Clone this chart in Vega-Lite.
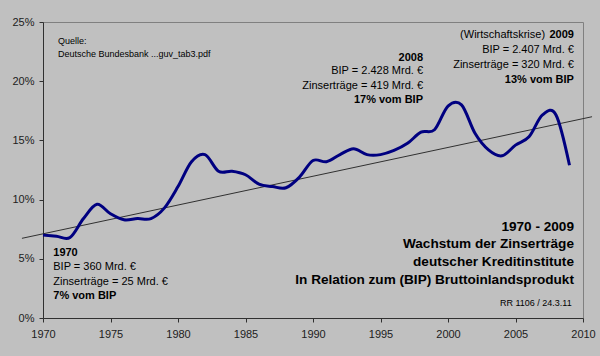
{
  "$schema": "https://vega.github.io/schema/vega-lite/v6.json",
  "width": 540,
  "height": 296,
  "autosize": {"type": "none"},
  "padding": {"left": 43, "top": 22, "right": 17, "bottom": 38},
  "background": "#c0c0c0",
  "config": {
    "view": {"stroke": "#808080", "strokeWidth": 1, "fill": "#c0c0c0"},
    "font": "Liberation Sans",
    "axis": {
      "grid": false,
      "domainColor": "#303030",
      "tickColor": "#303030",
      "labelColor": "#202020",
      "labelFont": "Liberation Sans",
      "labelFontSize": 11,
      "tickSize": 4,
      "title": null
    }
  },
  "datasets": {
    "series": [
      {"year": 1970, "pct": 7.0},
      {"year": 1971, "pct": 6.9},
      {"year": 1972, "pct": 6.8},
      {"year": 1973, "pct": 8.4},
      {"year": 1974, "pct": 9.6},
      {"year": 1975, "pct": 8.8},
      {"year": 1976, "pct": 8.3},
      {"year": 1977, "pct": 8.4},
      {"year": 1978, "pct": 8.4},
      {"year": 1979, "pct": 9.3},
      {"year": 1980, "pct": 11.1},
      {"year": 1981, "pct": 13.2},
      {"year": 1982, "pct": 13.8},
      {"year": 1983, "pct": 12.4},
      {"year": 1984, "pct": 12.4},
      {"year": 1985, "pct": 12.1},
      {"year": 1986, "pct": 11.3},
      {"year": 1987, "pct": 11.1},
      {"year": 1988, "pct": 11.0},
      {"year": 1989, "pct": 11.9},
      {"year": 1990, "pct": 13.3},
      {"year": 1991, "pct": 13.2},
      {"year": 1992, "pct": 13.8},
      {"year": 1993, "pct": 14.3},
      {"year": 1994, "pct": 13.8},
      {"year": 1995, "pct": 13.8},
      {"year": 1996, "pct": 14.15},
      {"year": 1997, "pct": 14.75},
      {"year": 1998, "pct": 15.7},
      {"year": 1999, "pct": 15.9},
      {"year": 2000, "pct": 17.9},
      {"year": 2001, "pct": 18.0},
      {"year": 2002, "pct": 15.6},
      {"year": 2003, "pct": 14.2},
      {"year": 2004, "pct": 13.7},
      {"year": 2005, "pct": 14.6},
      {"year": 2006, "pct": 15.3},
      {"year": 2007, "pct": 17.15},
      {"year": 2008, "pct": 17.15},
      {"year": 2009, "pct": 12.9}
    ],
    "trend": [
      {"year": 1968.44, "pct": 6.73},
      {"year": 2010.67, "pct": 17.0}
    ],
    "smallLeft": [
      {"year": 1971.11, "pct": 23.4, "label": "Quelle:"},
      {"year": 1971.11, "pct": 22.3, "label": "Deutsche Bundesbank ...guv_tab3.pdf"}
    ],
    "smallRight": [
      {"year": 2009.16, "pct": 1.24, "label": "RR 1106 / 24.3.11"}
    ],
    "noteLeftNormal": [
      {"year": 1970.76, "pct": 4.27, "label": "BIP = 360 Mrd. €"},
      {"year": 1970.76, "pct": 3.04, "label": "Zinserträge = 25 Mrd. €"}
    ],
    "noteLeftBold": [
      {"year": 1970.76, "pct": 5.52, "label": "1970"},
      {"year": 1970.76, "pct": 1.82, "label": "7% vom BIP"}
    ],
    "noteRightNormal": [
      {"year": 1998.15, "pct": 20.82, "label": "BIP = 2.428 Mrd. €"},
      {"year": 1998.15, "pct": 19.59, "label": "Zinserträge = 419 Mrd. €"},
      {"year": 2007.19, "pct": 23.9, "label": "(Wirtschaftskrise)"},
      {"year": 2009.33, "pct": 22.64, "label": "BIP = 2.407 Mrd. €"},
      {"year": 2009.33, "pct": 21.37, "label": "Zinserträge = 320 Mrd. €"}
    ],
    "noteRightBold": [
      {"year": 1998.15, "pct": 22.0, "label": "2008"},
      {"year": 1998.15, "pct": 18.41, "label": "17% vom BIP"},
      {"year": 2009.33, "pct": 23.9, "label": "2009"},
      {"year": 2009.33, "pct": 20.1, "label": "13% vom BIP"}
    ],
    "title": [
      {"year": 2009.33, "pct": 7.71, "label": "1970 - 2009"},
      {"year": 2009.33, "pct": 6.22, "label": "Wachstum der Zinserträge"},
      {"year": 2009.33, "pct": 4.73, "label": "deutscher Kreditinstitute"},
      {"year": 2009.33, "pct": 3.21, "label": "In Relation zum (BIP) Bruttoinlandsprodukt"}
    ]
  },
  "encoding": {
    "x": {
      "field": "year",
      "type": "quantitative",
      "scale": {"domain": [1970, 2010], "nice": false, "zero": false},
      "axis": {"values": [1970, 1975, 1980, 1985, 1990, 1995, 2000, 2005, 2010], "format": "d", "labelPadding": 6, "labelFlush": false}
    },
    "y": {
      "field": "pct",
      "type": "quantitative",
      "scale": {"domain": [0, 25], "nice": false},
      "axis": {"values": [0, 5, 10, 15, 20, 25], "labelExpr": "datum.value + '%'", "labelPadding": 5}
    }
  },
  "layer": [
    {
      "data": {"name": "trend"},
      "mark": {"type": "line", "color": "#303030", "strokeWidth": 1, "clip": false}
    },
    {
      "data": {"name": "series"},
      "mark": {"type": "line", "color": "#000080", "strokeWidth": 3, "interpolate": "cardinal", "tension": 0}
    },
    {
      "data": {"name": "smallLeft"},
      "mark": {"type": "text", "align": "left", "baseline": "middle", "fontSize": 9, "color": "#000000"},
      "encoding": {"text": {"field": "label"}}
    },
    {
      "data": {"name": "smallRight"},
      "mark": {"type": "text", "align": "right", "baseline": "middle", "fontSize": 9, "color": "#000000"},
      "encoding": {"text": {"field": "label"}}
    },
    {
      "data": {"name": "noteLeftNormal"},
      "mark": {"type": "text", "align": "left", "baseline": "middle", "fontSize": 11, "color": "#000000"},
      "encoding": {"text": {"field": "label"}}
    },
    {
      "data": {"name": "noteLeftBold"},
      "mark": {"type": "text", "align": "left", "baseline": "middle", "fontSize": 11, "fontWeight": "bold", "color": "#000000"},
      "encoding": {"text": {"field": "label"}}
    },
    {
      "data": {"name": "noteRightNormal"},
      "mark": {"type": "text", "align": "right", "baseline": "middle", "fontSize": 11, "color": "#000000"},
      "encoding": {"text": {"field": "label"}}
    },
    {
      "data": {"name": "noteRightBold"},
      "mark": {"type": "text", "align": "right", "baseline": "middle", "fontSize": 11, "fontWeight": "bold", "color": "#000000"},
      "encoding": {"text": {"field": "label"}}
    },
    {
      "data": {"name": "title"},
      "mark": {"type": "text", "align": "right", "baseline": "middle", "fontSize": 13.6, "fontWeight": "bold", "color": "#000000"},
      "encoding": {"text": {"field": "label"}}
    }
  ]
}
